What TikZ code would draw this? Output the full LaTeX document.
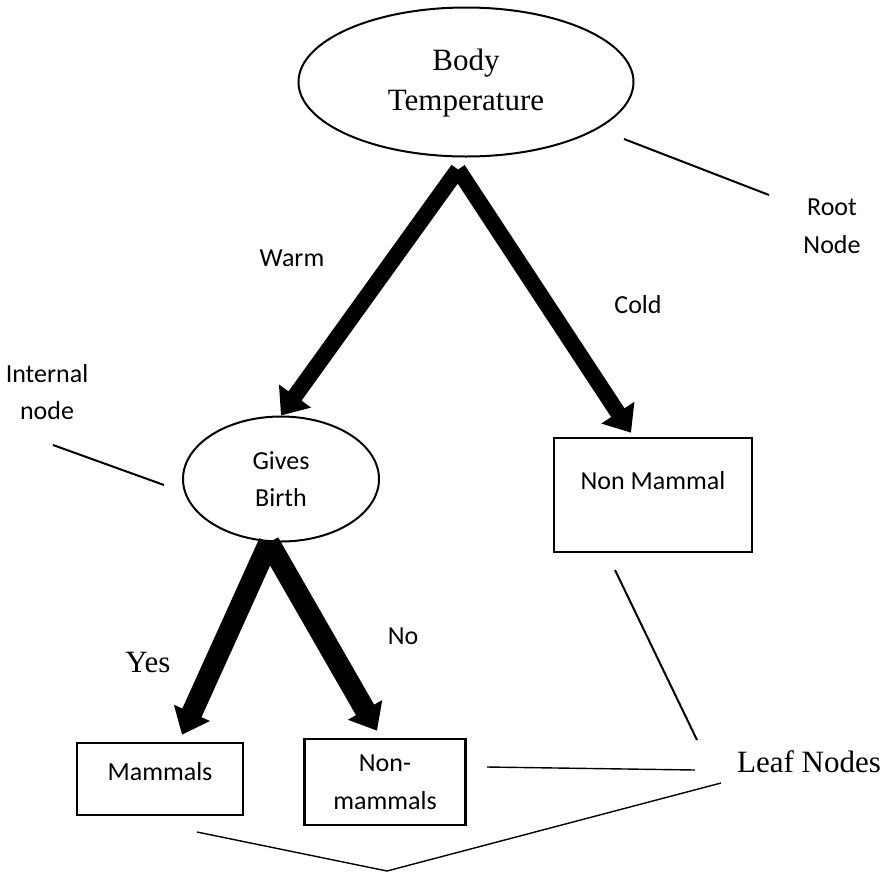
\documentclass[tikz,border=0pt]{standalone}
\usepackage{fontspec}
\setmainfont{Liberation Serif}
\newfontfamily\calibri{Carlito}
\usetikzlibrary{arrows.meta}
\usetikzlibrary{shapes.geometric}

\begin{document}
\begin{tikzpicture}[x=0.5pt,y=-0.5pt,
		treeoval/.style={draw,ellipse,line width=1pt,inner sep=0pt,align=center},
		treebox/.style={draw,rectangle,line width=1.3pt,inner sep=0pt,align=center},
		serif/.style={font=\fontsize{15.5}{20}\selectfont},
		sans/.style={font=\calibri\fontsize{13}{18.8}\selectfont},
		branch/.style={line width=8pt,-{Triangle[length=12pt,width=19pt]}},
		subbranch/.style={line width=10.5pt,-{Triangle[length=12pt,width=19pt]}},
		pointer/.style={line width=1pt},
		thinpointer/.style={line width=0.7pt}]
		\useasboundingbox (0,0) rectangle (882,873);
		% nodes of the tree
		\node[treeoval,serif,minimum width=167.5pt,minimum height=74.5pt,text depth=2pt] (root) at (466,82) {Body\\Temperature};
		\node[treeoval,sans,minimum width=98pt,minimum height=62.5pt] (gb) at (281,479) {Gives\\Birth};
		\node[treebox,sans,minimum width=99pt,minimum height=57pt,text depth=15pt] (nm) at (653,495) {Non Mammal};
		\node[treebox,sans,minimum width=83pt,minimum height=36pt,text depth=8pt] (mam) at (160,779) {Mammals};
		\node[treebox,sans,minimum width=80.5pt,minimum height=43pt] (nmm) at (385,782) {Non-\\mammals};
		% branches
		\coordinate (apex) at ([xshift=-4pt,yshift=-6pt]root.south);
		\coordinate (gbapex) at ([xshift=-6pt,yshift=0pt]gb.south);
		\draw[branch] (apex) -- (gb.north);
		\draw[branch] (apex) -- ([xshift=-11pt,yshift=2pt]nm.north);
		\draw[subbranch] (gbapex) -- ([xshift=11pt,yshift=3.5pt]mam.north);
		\draw[subbranch] (gbapex) -- ([xshift=-4pt,yshift=3.5pt]nmm.north);
		% labels
		\node[sans] (warm) at (292,258) {Warm};
		\node[sans] (cold) at (638,305) {Cold};
		\node[serif] (yes) at (148,662) {Yes};
		\node[sans] (no) at (403,636) {No};
		\node[sans,align=center] (rootlbl) at (832,226) {Root\\Node};
		\node[sans,align=center] (intlbl) at (47,392) {Internal\\node};
		\node[serif] (leaf) at (809,762) {Leaf Nodes};
		% pointers
		\coordinate (r1) at (624,139);
		\coordinate (r2) at (769,195);
		\coordinate (i1) at (53,445);
		\coordinate (i2) at (164,485);
		\coordinate (l1) at (615,570);
		\coordinate (l2) at (697,740);
		\coordinate (l3) at (487,767);
		\coordinate (l4) at (695,770);
		\coordinate (l5) at (721,783);
		\coordinate (vtx) at (387,871);
		\coordinate (l6) at (197,832);
		\draw[pointer] (r1) -- (r2);
		\draw[pointer] (i1) -- (i2);
		\draw[pointer] (l1) -- (l2);
		\draw[thinpointer] (l3) -- (l4);
		\draw[thinpointer] (l6) -- (vtx) -- (l5);
\end{tikzpicture}
\end{document}
